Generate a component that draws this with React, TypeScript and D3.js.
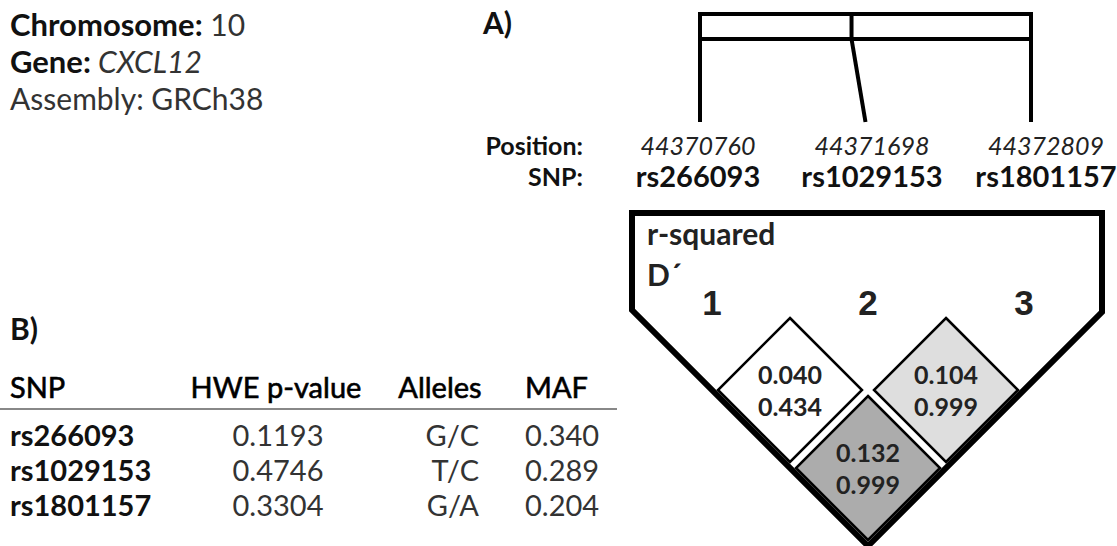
import * as d3 from "d3";

// SNP summary (panel B) and marker info (panel A)
const SNPS = ["rs266093", "rs1029153", "rs1801157"];
const POSITIONS = [44370760, 44371698, 44372809];
const HWE = ["0.1193", "0.4746", "0.3304"];
const ALLELES = ["G/C", "T/C", "G/A"];
const MAF = ["0.340", "0.289", "0.204"];
const TABLE_HEADERS = ["SNP", "HWE p-value", "Alleles", "MAF"];

// pairwise LD: marker index pairs, r-squared and D'
const MARKERS = [1, 2, 3];
const LD_PAIRS: [number, number][] = [
  [1, 2],
  [2, 3],
  [1, 3],
];
const R_SQUARED = ["0.040", "0.104", "0.132"];
const D_PRIME = ["0.434", "0.999", "0.999"];

const CELL_FILLS = ["#ffffff", "#dedede", "#acacac"];

const W = 1117;
const H = 546;
const FONT = "Lato, 'Open Sans', sans-serif";
const INK = "#111";

export default function App() {
  // physical map bar
  const bar = { left: 700, right: 1031, top: 14, mid: 39, bottom: 122 };
  const posX = d3
    .scaleLinear()
    .domain(d3.extent(POSITIONS) as [number, number])
    .range([bar.left, bar.right]);
  // evenly spaced marker ends of the connector lines
  const markerX = d3.scalePoint<string>().domain(SNPS).range([bar.left, bar.right]);
  // label columns under the bar
  const labelX = d3.scalePoint<string>().domain(SNPS).range([698, 1046]);

  // LD triangle
  const ldX = d3.scalePoint<number>().domain(MARKERS).range([712, 1024]);
  const half = ldX.step() / 2;
  const y0 = 312; // top of first row of cells
  const cellCenter = ([i, j]: [number, number]) => ({
    x: ((ldX(i) ?? 0) + (ldX(j) ?? 0)) / 2,
    y: y0 + (j - i) * half,
  });
  const first = ldX(MARKERS[0]) ?? 0;
  const last = ldX(MARKERS[MARKERS.length - 1]) ?? 0;
  const n = MARKERS.length;
  const boxLeft = first - 80;
  const boxRight = last + 78;
  const boxTop = 213;
  const bottom = { x: (first + last) / 2, y: y0 + n * half };
  const leftCornerY = bottom.y - (bottom.x - boxLeft);
  const rightCornerY = bottom.y - (boxRight - bottom.x);
  const outline = d3.line()([
    [boxLeft, leftCornerY],
    [boxLeft, boxTop],
    [boxRight, boxTop],
    [boxRight, rightCornerY],
    [bottom.x, bottom.y],
  ]) + "Z";

  const inset = 6;
  const diamond = (c: { x: number; y: number }) => {
    const h = half - inset;
    return (
      d3.line()([
        [c.x, c.y - h],
        [c.x + h, c.y],
        [c.x, c.y + h],
        [c.x - h, c.y],
      ]) + "Z"
    );
  };

  // table rows
  const rowY = d3.scalePoint<string>().domain(SNPS).range([446, 516]);

  return (
    <svg
      width={W}
      height={H}
      style={{ position: "absolute", left: 0, top: 0, background: "#fff" }}
      fontFamily={FONT}
    >
      {/* gene info */}
      <g fontSize={30} fill={INK}>
        <text x={10} y={36}>
          <tspan fontWeight={700} fontSize={31}>Chromosome:</tspan>
          <tspan fill="#333"> 10</tspan>
        </text>
        <text x={10} y={73}>
          <tspan fontWeight={700} fontSize={31}>Gene:</tspan>
          <tspan fill="#333" fontStyle="italic"> CXCL12</tspan>
        </text>
        <text x={10} y={110} fill="#333">
          Assembly: GRCh38
        </text>
        <text x={483} y={34} fontWeight={700}>
          A)
        </text>
        <text x={10} y={340} fontWeight={700}>
          B)
        </text>
      </g>

      {/* physical map */}
      <g stroke="#000" fill="none" strokeWidth={4}>
        <rect x={bar.left} y={bar.top} width={bar.right - bar.left} height={bar.mid - bar.top} />
        {SNPS.map((s, i) => (
          <g key={s}>
            <line x1={posX(POSITIONS[i])} x2={posX(POSITIONS[i])} y1={bar.top} y2={bar.mid} />
            <line
              x1={posX(POSITIONS[i])}
              y1={bar.mid}
              x2={markerX(s)}
              y2={bar.bottom}
            />
          </g>
        ))}
      </g>

      <g fill={INK}>
        <text x={583} y={155} textAnchor="end" fontWeight={700} fontSize={25}>
          Position:
        </text>
        <text x={583} y={186} textAnchor="end" fontWeight={700} fontSize={25}>
          SNP:
        </text>
        {SNPS.map((s, i) => (
          <g key={s}>
            <text x={labelX(s)} y={155} textAnchor="middle" fontStyle="italic" fontSize={25} fill="#222">
              {POSITIONS[i]}
            </text>
            <text x={labelX(s)} y={187} textAnchor="middle" fontWeight={700} fontSize={29}>
              {s}
            </text>
          </g>
        ))}
      </g>

      {/* LD plot */}
      <path d={outline} fill="#fff" stroke="#000" strokeWidth={6} strokeLinejoin="miter" />
      <text x={647} y={245} fontWeight={700} fontSize={30} fill="#222">
        r-squared
      </text>
      <text x={647} y={286} fontWeight={700} fontSize={30} fill="#222">
        D´
      </text>
      {MARKERS.map((m) => (
        <text
          key={m}
          x={ldX(m)}
          y={315}
          textAnchor="middle"
          fontFamily="'Liberation Sans', Arial, sans-serif"
          fontWeight={700}
          fontSize={35}
          fill="#222"
        >
          {m}
        </text>
      ))}
      {LD_PAIRS.map((p, k) => {
        const c = cellCenter(p);
        return (
          <g key={k}>
            <path d={diamond(c)} fill={CELL_FILLS[k]} stroke="#000" strokeWidth={2.5} />
            <text x={c.x} y={c.y - 6} textAnchor="middle" fontWeight={700} fontSize={25} fill="#222">
              {R_SQUARED[k]}
            </text>
            <text x={c.x} y={c.y + 26} textAnchor="middle" fontWeight={700} fontSize={25} fill="#222">
              {D_PRIME[k]}
            </text>
          </g>
        );
      })}

      {/* SNP table */}
      <g fontSize={29} fill={INK}>
        <g fill="#000" stroke="#000" strokeWidth={0.6}>
          <text x={10} y={398}>{TABLE_HEADERS[0]}</text>
          <text x={276} y={398} textAnchor="middle">{TABLE_HEADERS[1]}</text>
          <text x={440} y={398} textAnchor="middle">{TABLE_HEADERS[2]}</text>
          <text x={525} y={398}>{TABLE_HEADERS[3]}</text>
        </g>
        <line x1={0} x2={617} y1={409} y2={409} stroke="#888" strokeWidth={2} />
        {SNPS.map((s, i) => (
          <g key={s}>
            <text x={10} y={rowY(s)} fontWeight={700}>{s}</text>
            <text x={278} y={rowY(s)} textAnchor="middle" fill="#333">{HWE[i]}</text>
            <text x={479} y={rowY(s)} textAnchor="end" fill="#333">{ALLELES[i]}</text>
            <text x={525} y={rowY(s)} fill="#333">{MAF[i]}</text>
          </g>
        ))}
      </g>
    </svg>
  );
}
